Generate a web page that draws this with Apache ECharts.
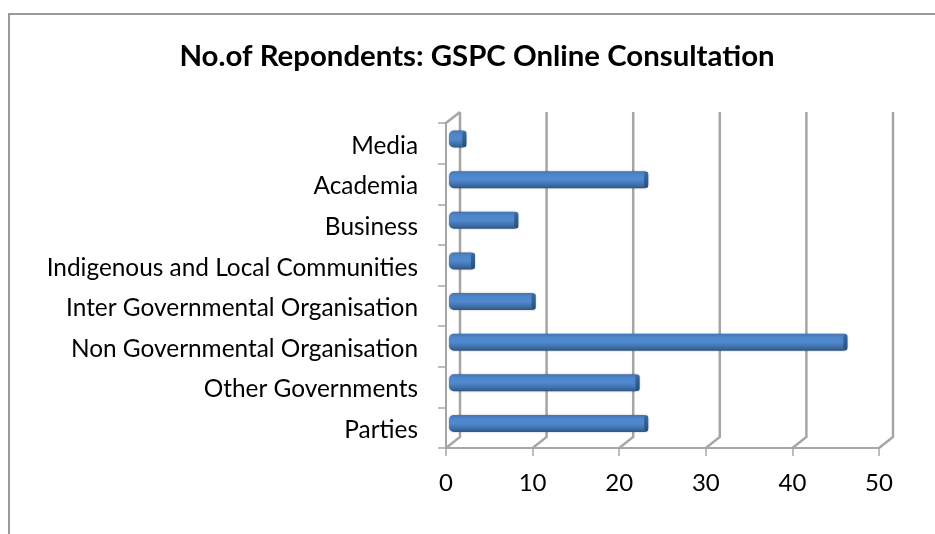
<!DOCTYPE html>
<html><head><meta charset="utf-8">
<style>html,body{margin:0;padding:0;background:#fff}#c{width:935px;height:534px}</style>
<script src="https://cdn.jsdelivr.net/npm/echarts@6/dist/echarts.min.js"></script>
</head><body><div id="c"></div>
<script>
const titleText = 'No.of Repondents: GSPC Online Consultation';
const categories = ['Parties','Other Governments','Non Governmental Organisation','Inter Governmental Organisation','Indigenous and Local Communities','Business','Academia','Media'];
const respondents = [23,22,46,10,3,8,23,2];
const xTicks = [0,10,20,30,40,50];
const font = 'Lato, "Open Sans", sans-serif';
const chart = echarts.init(document.getElementById('c'));
const wallColor = '#a6a6a6';
const depth = [14,-11];
chart.setOption({
  animation:false,
  backgroundColor:'#fff',
  title:{text:titleText,left:472,top:37,textAlign:'center',textStyle:{fontFamily:font,fontSize:29.4,fontWeight:'bold',color:'#000'}},
  graphic:[{type:'polyline',silent:true,z:0,shape:{points:[[9,534],[9,14],[935,14]]},style:{fill:null,stroke:'#9a9a9a',lineWidth:2}}],
  grid:[
    {left:446,width:433,top:123,height:325},
    {left:449,width:433,top:118.7,height:325},
    {left:446,width:433,top:125.5,height:325}
  ],
  xAxis:[
    {gridIndex:0,type:'value',min:0,max:50,interval:10,splitLine:{show:false},
     axisLine:{show:true,lineStyle:{color:wallColor,width:2}},
     axisTick:{show:true,length:8,lineStyle:{color:wallColor,width:1.5}},
     axisLabel:{fontFamily:font,fontSize:24,color:'#000',margin:23}},
    {gridIndex:1,type:'value',min:0,max:50,interval:10,show:false},
    {gridIndex:2,type:'value',min:0,max:50,interval:10,show:false}
  ],
  yAxis:[
    {gridIndex:0,type:'category',data:categories,
     axisLine:{show:true,onZero:false,lineStyle:{color:wallColor,width:2}},
     axisTick:{show:true,length:8,lineStyle:{color:wallColor,width:1.5}},
     axisLabel:{show:false}},
    {gridIndex:1,type:'category',data:categories,show:false},
    {gridIndex:2,type:'category',data:categories,
     axisLine:{show:false},axisTick:{show:false},
     axisLabel:{fontFamily:font,fontSize:24.4,color:'#000',margin:28}}
  ],
  series:[
    {type:'custom',xAxisIndex:0,yAxisIndex:0,coordinateSystem:'cartesian2d',z:1,silent:true,
     data:xTicks.map(v=>[v]),
     encode:{x:0},
     renderItem(params,api){
       const v=api.value(0);
       const bottom=api.coord([v,0]);
       const r=params.coordSys;
       const yB=r.y+r.height, yT=r.y;
       const x=bottom[0];
       const s={stroke:wallColor,lineWidth:2.5,fill:null};
       return {type:'group',children:[
         {type:'polyline',shape:{points:[[x,yB],[x+depth[0],yB+depth[1]],[x+depth[0],yT+depth[1]]]},style:s}
       ].concat(v===0?[{type:'line',shape:{x1:x,y1:yT,x2:x+depth[0],y2:yT+depth[1]},style:s}]:[])};
     }},
    {type:'bar',name:'Respondents',xAxisIndex:1,yAxisIndex:1,data:respondents,barWidth:17,z:3,silent:true,
     itemStyle:{borderRadius:[5,4,4,5],
       color:new echarts.graphic.LinearGradient(0,0,0,1,[
         {offset:0,color:'#4374b0'},{offset:0.22,color:'#4f86cb'},{offset:0.5,color:'#5089cf'},{offset:0.8,color:'#3f6fa9'},{offset:1,color:'#2f5683'}]),
       shadowColor:'rgba(0,0,0,0.3)',shadowBlur:2}},
    {type:'custom',xAxisIndex:1,yAxisIndex:1,coordinateSystem:'cartesian2d',z:4,silent:true,
     data:respondents.map((v,i)=>[v,i]),
     encode:{x:0,y:1},
     renderItem(params,api){
       const p=api.coord([api.value(0),api.value(1)]);
       return {type:'rect',shape:{x:p[0]-4,y:p[1]-8,width:4,height:16,r:[3,2,2,3]},
         style:{fill:new echarts.graphic.LinearGradient(0,0,0,1,[{offset:0,color:'#3a6a9f'},{offset:1,color:'#2a5078'}])}};
     }}
  ]
});
</script></body></html>
